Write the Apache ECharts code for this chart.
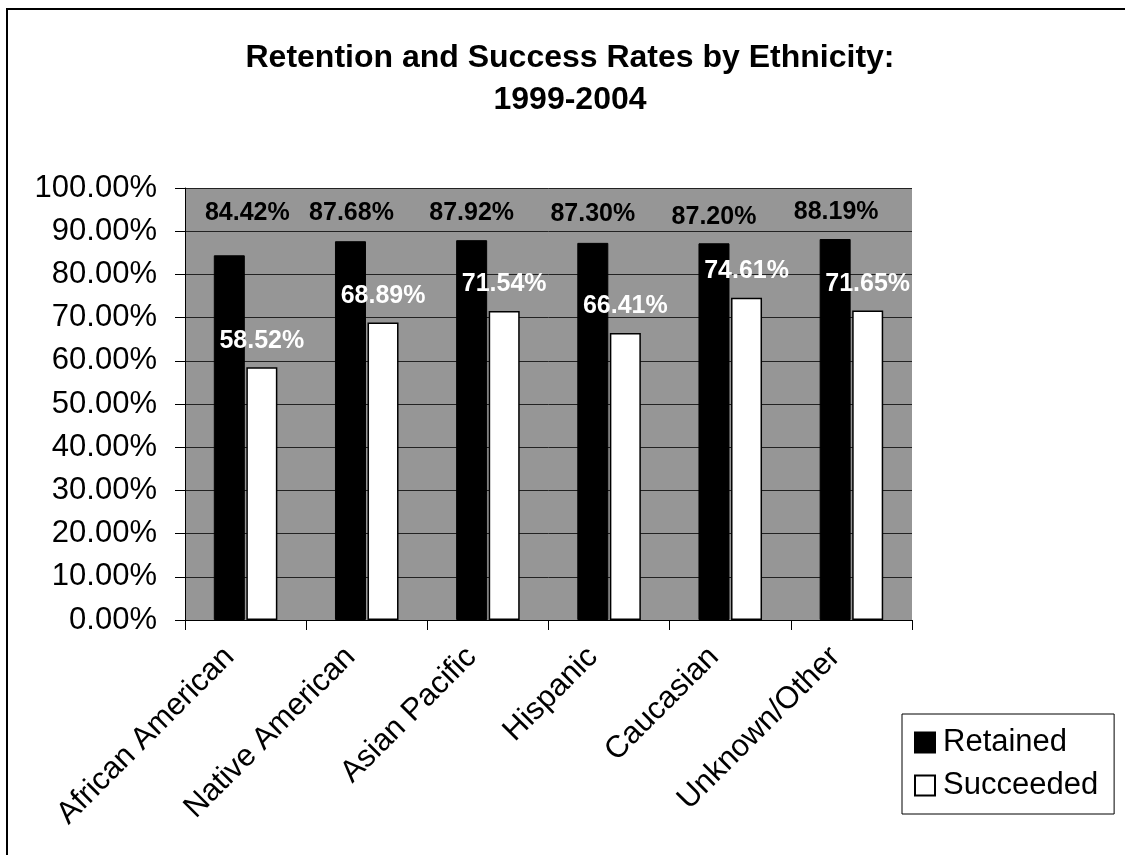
<!DOCTYPE html>
<html>
<head>
<meta charset="utf-8">
<script src="https://cdn.jsdelivr.net/npm/echarts@6/dist/echarts.min.js"></script>
<style>
html,body{margin:0;padding:0;background:#fff;}
#chart{width:1125px;height:855px;}
</style>
</head>
<body>
<div id="chart"></div>
<script>
// ---- data ----
const categories = ['African American', 'Native American', 'Asian Pacific', 'Hispanic', 'Caucasian', 'Unknown/Other'];
const retained = [84.42, 87.68, 87.92, 87.30, 87.20, 88.19];
const succeeded = [58.52, 68.89, 71.54, 66.41, 74.61, 71.65];
const yTicks = { min: 0, max: 100, interval: 10 };

// ---- style config (label placement as in the original) ----
const retainedLabelNudgeX = [18, 1, 0, 0, 0, 1];
const retainedLabelLevel = [94.2, 94.2, 94.2, 94.0, 93.3, 94.4];

const FONT = '"Liberation Sans", Arial, sans-serif';
const gridTop = 188, gridBottom = 235;
const plotH = 855 - gridTop - gridBottom;
const pxPerUnit = plotH / (yTicks.max - yTicks.min);

const chart = echarts.init(document.getElementById('chart'), null, { renderer: 'canvas' });

const retainedData = retained.map((v, i) => ({
  value: v,
  label: {
    offset: [retainedLabelNudgeX[i], -(retainedLabelLevel[i] - v) * pxPerUnit]
  }
}));

const option = {
  backgroundColor: '#ffffff',
  animation: false,
  textStyle: { fontFamily: FONT },
  title: {
    text: 'Retention and Success Rates by Ethnicity:\n1999-2004',
    left: 570,
    textAlign: 'center',
    top: 33,
    padding: [4, 0, 4, 0],
    textStyle: { fontFamily: FONT, fontSize: 32, fontWeight: 'bold', color: '#000', lineHeight: 42 }
  },
  graphic: [{
    type: 'rect',
    shape: { x: 7, y: 9, width: 1200, height: 900 },
    style: { fill: null, stroke: '#000', lineWidth: 2 },
    silent: true,
    z: -1
  }],
  legend: {
    orient: 'vertical',
    left: 902,
    top: 714,
    padding: [12, 16, 12, 12],
    itemGap: 10,
    itemWidth: 20,
    itemHeight: 20,
    borderColor: '#000',
    borderWidth: 1,
    backgroundColor: '#fff',
    icon: 'rect',
    textStyle: { fontFamily: FONT, fontSize: 31, color: '#000', lineHeight: 33, padding: [0, 0, 0, 3] },
    data: ['Retained', 'Succeeded']
  },
  grid: {
    left: 185, right: 213, top: gridTop, bottom: gridBottom,
    show: true, backgroundColor: '#969696', borderWidth: 0,
    containLabel: false
  },
  xAxis: {
    type: 'category',
    data: categories,
    axisLine: { show: true, lineStyle: { color: '#000', width: 1 } },
    axisTick: { show: true, length: 10, lineStyle: { color: '#000' } },
    axisLabel: {
      rotate: 45, margin: 16, color: '#000', fontFamily: FONT, fontSize: 31, interval: 0,
      padding: [0, 23, 0, 0]
    },
    splitLine: { show: false }
  },
  yAxis: {
    type: 'value',
    min: yTicks.min, max: yTicks.max, interval: yTicks.interval,
    axisLine: { show: true, lineStyle: { color: '#000', width: 1 } },
    axisTick: { show: true, length: 10, lineStyle: { color: '#000' } },
    axisLabel: {
      margin: 28, color: '#000', fontFamily: FONT, fontSize: 31,
      formatter: v => v.toFixed(2) + '%'
    },
    splitLine: { show: true, lineStyle: { color: '#222', width: 1 } }
  },
  series: [
    {
      name: 'Retained',
      type: 'bar',
      data: retainedData,
      barWidth: 31,
      barGap: '5%',
      itemStyle: { color: '#000', borderColor: '#000', borderWidth: 1 },
      label: {
        show: true, position: 'top', distance: 0, verticalAlign: 'middle',
        color: '#000', fontFamily: FONT, fontSize: 25, fontWeight: 'bold',
        formatter: p => p.value.toFixed(2) + '%'
      }
    },
    {
      name: 'Succeeded',
      type: 'bar',
      data: succeeded,
      barWidth: 31,
      itemStyle: { color: '#fff', borderColor: '#000', borderWidth: 1.5 },
      label: {
        show: true, position: 'top', distance: 14,
        color: '#fff', fontFamily: FONT, fontSize: 25, fontWeight: 'bold',
        formatter: p => p.value.toFixed(2) + '%'
      }
    }
  ]
};

chart.setOption(option);
</script>
</body>
</html>
